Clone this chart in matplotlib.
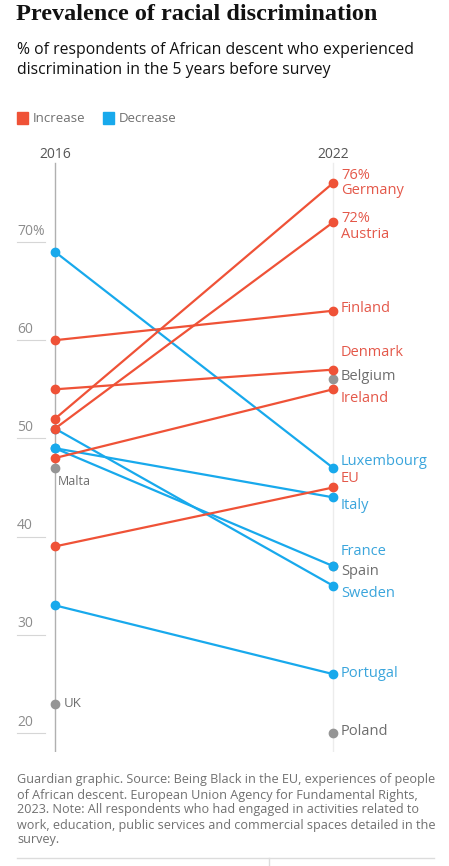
import matplotlib
matplotlib.use("Agg")
import matplotlib.pyplot as plt
from matplotlib.patches import Rectangle

# ---------------- data ----------------
increase = ["Germany", "Austria", "Finland", "Denmark", "Ireland", "EU"]
increase_2016 = [52, 51, 60, 55, 48, 39]
increase_2022 = [76, 72, 63, 57, 55, 45]

decrease = ["Luxembourg", "Italy", "France", "Sweden", "Portugal"]
decrease_2016 = [69, 49, 49, 51, 33]
decrease_2022 = [47, 44, 37, 35, 26]

only_2022 = ["Belgium", "Spain", "Poland"]
only_2022_vals = [56, 37, 20]
only_2016 = ["Malta", "UK"]
only_2016_vals = [47, 23]

ticks = [20, 30, 40, 50, 60, 70]
tick_labels = ["20", "30", "40", "50", "60", "70%"]
years = ["2016", "2022"]

# label y positions (in % units) where they are nudged off their dots
label_y = {"Germany": 76, "Austria": 71.6, "Finland": 63.2, "Denmark": 58.7,
           "Belgium": 56.35, "Ireland": 54.1, "Luxembourg": 47.6, "EU": 45.9,
           "Italy": 43.2, "France": 38.5, "Spain": 36.4, "Sweden": 34.25,
           "Portugal": 26.1, "Poland": 20.2}
pct_labels = {"Germany": "76%", "Austria": "72%"}

RED = "#ef5237"
BLUE = "#18a9ec"
GREY = "#959595"
RED_T = "#e4584a"
BLUE_T = "#3aa5dc"
GREY_T = "#6e6e6e"
SANS = ["Open Sans", "DejaVu Sans"]

W, H = 449, 866
fig = plt.figure(figsize=(W / 100, H / 100), dpi=100)


def fx(px):
    return px / W


def fy(py):
    return 1 - py / H


# axes: x 2016 at px 55, 2022 at px 333 ; y 20 at px 733, 10 pts = 98.2 px
top_px, bot_px = 160, 752
ax = fig.add_axes([0, fy(bot_px), 1, (bot_px - top_px) / H])
ppu = 9.82
ax.set_ylim(20 - (bot_px - 733) / ppu, 20 + (733 - top_px) / ppu)
ax.set_xlim(-55 / 278, (W - 55) / 278)
ax.axis("off")

ymax = 20 + (733 - 163) / ppu
ymin = ax.get_ylim()[0]
ax.plot([0, 0], [ymin, ymax], color="#b0b0b0", lw=1, zorder=1)
ax.plot([1, 1], [ymin, ymax], color="#ececec", lw=1, zorder=1)

for t, lab in zip(ticks, tick_labels):
    ax.plot([-38 / 278, -10 / 278], [t, t], color="#d6d6d6", lw=0.8)
    ax.text(-38 / 278, t + 0.35, lab, fontsize=10, color="#8c8c8c",
            family=SANS, va="bottom", ha="left")

for name, a, b in zip(decrease, decrease_2016, decrease_2022):
    ax.plot([0, 1], [a, b], color=BLUE, lw=1.6, marker="o", ms=6, zorder=3)
for name, a, b in zip(increase, increase_2016, increase_2022):
    ax.plot([0, 1], [a, b], color=RED, lw=1.6, marker="o", ms=6, zorder=3)
for v in only_2022_vals:
    ax.plot([1], [v], color=GREY, marker="o", ms=6, zorder=2)
for v in only_2016_vals:
    ax.plot([0], [v], color=GREY, marker="o", ms=6, zorder=2)

lx = 8 / 278
for name in increase + decrease + only_2022:
    col = RED_T if name in increase else BLUE_T if name in decrease else GREY_T
    txt = name
    if name in pct_labels:
        txt = pct_labels[name] + "\n" + name
    ax.text(1 + lx, label_y[name], txt, fontsize=10.5, color=col, family=SANS,
            va="center", ha="left", linespacing=1.05)

ax.text(3 / 278, 45.6, "Malta", fontsize=9, color=GREY_T, family=SANS,
        va="center", ha="left")
ax.text(9 / 278, 23.05, "UK", fontsize=9.5, color=GREY_T, family=SANS,
        va="center", ha="left")

# ---------------- header ----------------
fig.text(fx(16), fy(14), "Prevalence of racial discrimination", fontsize=17.5,
         fontweight="bold", family=["Liberation Serif", "DejaVu Serif"],
         color="#121212", va="center", ha="left")
fig.text(fx(17), fy(60), "% of respondents of African descent who experienced\n"
         "discrimination in the 5 years before survey", fontsize=11.3,
         family=SANS, color="#121212", va="center", ha="left", linespacing=1.35)

fig.patches.append(Rectangle((fx(17), fy(124)), 11 / W, 12 / H,
                             transform=fig.transFigure, color=RED))
fig.text(fx(33), fy(118), "Increase", fontsize=9.5, color="#707070",
         family=SANS, va="center")
fig.patches.append(Rectangle((fx(103), fy(124)), 11 / W, 12 / H,
                             transform=fig.transFigure, color=BLUE))
fig.text(fx(119), fy(118), "Decrease", fontsize=9.5, color="#707070",
         family=SANS, va="center")

fig.text(fx(55), fy(155), years[0], fontsize=10, color="#555555",
         family=SANS, va="center", ha="center")
fig.text(fx(333), fy(155), years[1], fontsize=10, color="#555555",
         family=SANS, va="center", ha="center")

# ---------------- footer ----------------
fig.text(fx(17), fy(810),
         "Guardian graphic. Source: Being Black in the EU, experiences of people\n"
         "of African descent. European Union Agency for Fundamental Rights,\n"
         "2023. Note: All respondents who had engaged in activities related to\n"
         "work, education, public services and commercial spaces detailed in the\n"
         "survey.", fontsize=9.1, color="#707070", family=SANS,
         va="center", ha="left", linespacing=1.2)
fig.add_artist(plt.Line2D([fx(17), fx(434)], [fy(858), fy(858)],
                          color="#dcdcdc", lw=1))
fig.add_artist(plt.Line2D([fx(269), fx(269)], [fy(858), fy(866)],
                          color="#dcdcdc", lw=1))

fig.savefig("out.png", dpi=100)
